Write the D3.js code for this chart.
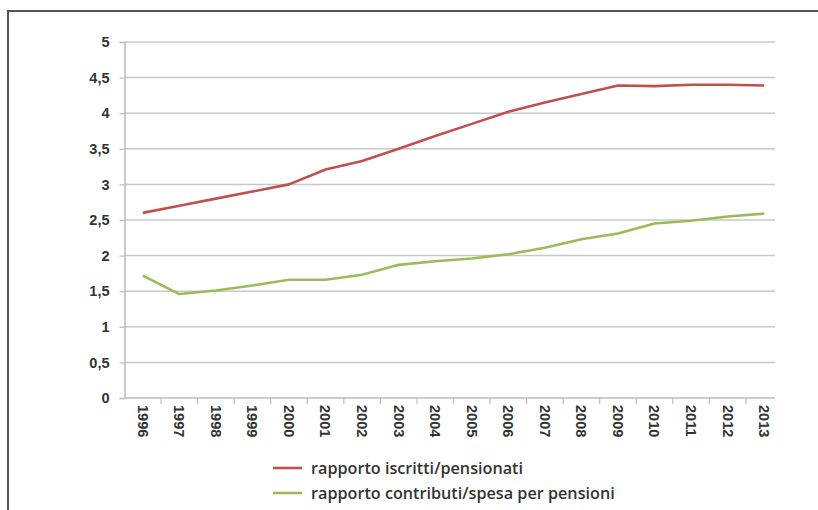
<!DOCTYPE html>
<html><head><meta charset="utf-8">
<script src="https://cdn.jsdelivr.net/npm/d3@7"></script>
<style>
body{margin:0;background:#fff;}
svg{display:block;}
</style></head>
<body><svg id="c" width="818" height="510"></svg>
<script>
const years = ["1996","1997","1998","1999","2000","2001","2002","2003","2004","2005","2006","2007","2008","2009","2010","2011","2012","2013"];
const iscrittiPensionati = [2.60,2.70,2.80,2.90,3.00,3.21,3.33,3.50,3.68,3.85,4.02,4.15,4.27,4.39,4.38,4.40,4.40,4.39];
const contributiSpesa = [1.72,1.46,1.51,1.58,1.66,1.66,1.73,1.87,1.92,1.96,2.02,2.11,2.23,2.31,2.45,2.49,2.55,2.59];
const yTicks = [0,0.5,1,1.5,2,2.5,3,3.5,4,4.5,5];
const seriesNames = ["rapporto iscritti/pensionati","rapporto contributi/spesa per pensioni"];
const colors = ["#c0504d","#9bbb59"];

const svg = d3.select("#c");
const fmt = d => String(d).replace(".", ",");
// frame
svg.append("rect").attr("x",8).attr("y",11).attr("width",830).attr("height",520)
  .attr("fill","#fff").attr("stroke","#555").attr("stroke-width",2);

const L = 124.5, R = 782.5, T = 42, B = 398;
const x = d3.scaleBand().domain(years).range([L, R]);
const y = d3.scaleLinear().domain([0,5]).range([B, T]);

// gridlines
svg.append("g").selectAll("line").data(yTicks.filter(d=>d>0)).join("line")
  .attr("x1",L).attr("x2",775).attr("y1",d=>y(d)).attr("y2",d=>y(d))
  .attr("stroke","#c8c8c8").attr("stroke-width",1.5);

// y axis
const ya = svg.append("g").attr("transform",`translate(${L},0)`)
  .call(d3.axisLeft(y).tickValues(yTicks).tickFormat(fmt).tickSize(5).tickPadding(10));
ya.select(".domain").attr("stroke","#bbb").attr("stroke-width",1.5);
ya.selectAll(".tick line").attr("stroke","#bbb").attr("stroke-width",1.2);
ya.selectAll("text").attr("font-family","'Liberation Sans Narrow','Arial Narrow',sans-serif")
  .attr("font-weight","bold").attr("font-size",14.5).attr("fill","#333");

// x axis
const xa = svg.append("g").attr("transform",`translate(0,${B})`)
  .call(d3.axisBottom(x).tickSize(0).tickPadding(0));
xa.select(".domain").attr("d",`M${L},0H775`).attr("stroke","#bbb").attr("stroke-width",1.5);
xa.selectAll(".tick line").remove();
svg.append("g").selectAll("line").data(years.slice(1)).join("line")
  .attr("x1",d=>x(d)).attr("x2",d=>x(d)).attr("y1",B).attr("y2",B+6)
  .attr("stroke","#bbb").attr("stroke-width",1.2);
xa.selectAll(".tick text")
  .attr("transform","translate(0,7) rotate(90)")
  .attr("text-anchor","start").attr("dy","0.35em").attr("x",0).attr("y",0)
  .attr("font-family","'Liberation Sans Narrow','Arial Narrow',sans-serif")
  .attr("font-weight","bold").attr("font-size",14.5).attr("fill","#333");

// lines
const line = d3.line().x((d,i)=>x(years[i])+x.bandwidth()/2).y(d=>y(d));
[iscrittiPensionati, contributiSpesa].forEach((s,i)=>{
  svg.append("path").datum(s).attr("d",line).attr("fill","none")
    .attr("stroke",colors[i]).attr("stroke-width",2.6).attr("stroke-linejoin","round");
});

// legend
const lg = svg.append("g");
seriesNames.forEach((n,i)=>{
  const ly = 468 + i*25;
  lg.append("line").attr("x1",273).attr("x2",302).attr("y1",ly).attr("y2",ly)
    .attr("stroke",colors[i]).attr("stroke-width",2.6);
  lg.append("text").attr("x",311).attr("y",ly).attr("dy","0.35em")
    .attr("font-family","'Open Sans', Lato, sans-serif").attr("font-size",16.2).attr("font-weight",600)
    .attr("fill","#333").text(n);
});
</script></body></html>
